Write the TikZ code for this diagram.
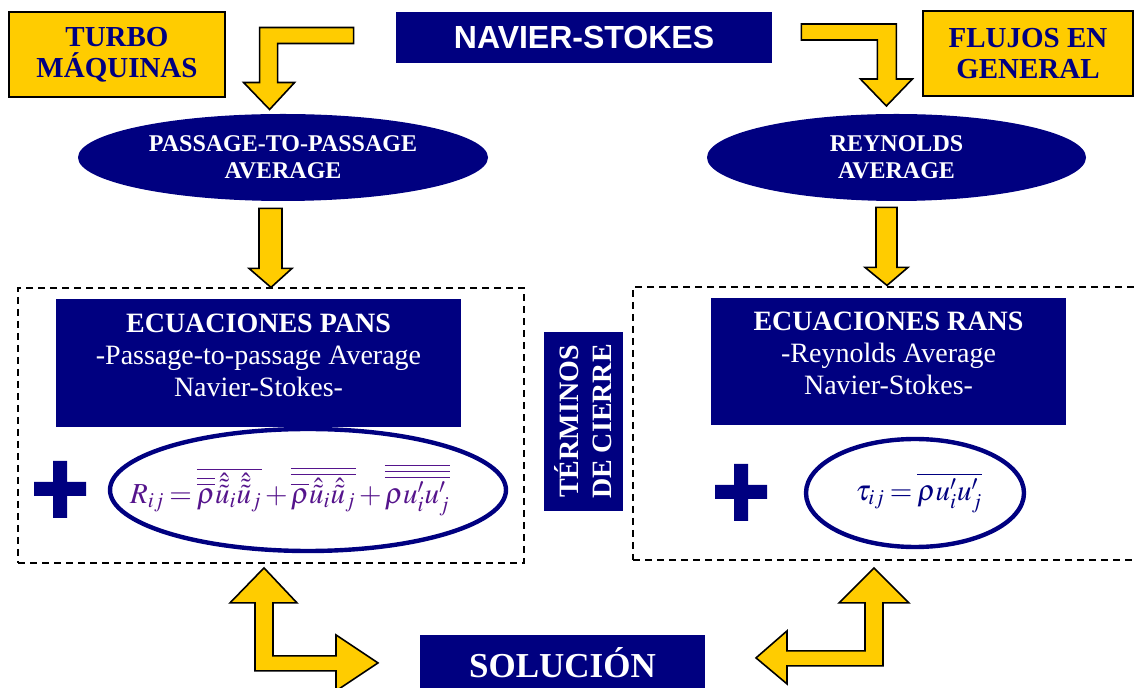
\documentclass[tikz,border=0pt]{standalone}
\usepackage{mathptmx}
\usepackage[no-math]{fontspec}
\setmainfont{Liberation Serif}
\newfontfamily\headsans{Liberation Sans}
\usepackage{amssymb, amsmath}
\usepackage{tikz}
\usetikzlibrary{shapes.geometric}

\definecolor{navyblue}{RGB}{0,0,128}
\definecolor{turboyellow}{RGB}{255,204,0}
\definecolor{formpurple}{RGB}{85,20,140}

\tikzset{
  yellowbox/.style={draw=black, line width=0.8pt, fill=turboyellow, text=navyblue, align=center, inner sep=0pt,
    font=\bfseries\fontsize{14.5}{15.5}\selectfont, minimum width=108pt, minimum height=42.5pt},
  navybox/.style={fill=navyblue, text=white, align=center, inner sep=0pt},
  eqbox/.style={navybox, font=\fontsize{14}{16}\selectfont, text depth=8pt},
  avgellipse/.style={ellipse, fill=navyblue, text=white, align=center, inner sep=0pt,
    font=\bfseries\fontsize{12}{13.5}\selectfont},
  closebox/.style={draw, dash pattern=on 3.5pt off 2.5pt, line width=0.9pt, inner sep=0pt},
  formring/.style={ellipse, draw=navyblue, line width=2.2pt, fill=white, inner sep=0pt},
  formula/.style={font=\fontsize{14.5}{18}\selectfont,
    execute at begin node={\thickmuskip=3mu\relax\medmuskip=2mu\relax}},
  yarrow/.style={draw=black, fill=turboyellow, line width=0.8pt, line join=miter},
}

\begin{document}
\begin{tikzpicture}[x=0.5pt,y=-0.5pt]
\useasboundingbox (0,0) rectangle (1134,688);

\node[yellowbox] (turbo) at (117,54.5) {TURBO\\M\'AQUINAS};
\node[yellowbox, minimum width=105pt] (flujos) at (1028,53.5) {FLUJOS EN\\GENERAL};
\node[navybox, minimum width=188pt, minimum height=25.5pt, font=\headsans\bfseries\fontsize{16}{18}\selectfont]
  (navier) at (584,37.5) {NAVIER-STOKES};

\node[avgellipse, minimum width=205pt, minimum height=43.5pt] (ppa) at (283,157.5) {PASSAGE-TO-PASSAGE\\AVERAGE};
\node[avgellipse, minimum width=189.5pt, minimum height=43.5pt] (rey) at (896.5,157.5) {REYNOLDS\\AVERAGE};

% closure blocks
\node[closebox, minimum width=253pt, minimum height=137.5pt] (lbox) at (271,425.5) {};
\node[closebox, minimum width=255pt, minimum height=136.5pt] (rbox) at (888,423.5) {};

\node[eqbox, minimum width=202.5pt, minimum height=64pt] (pans) at (258.5,363)
  {\textbf{ECUACIONES PANS}\\-Passage-to-passage Average\\Navier-Stokes-};
\node[eqbox, minimum width=177.5pt, minimum height=63.5pt] (rans) at (888.5,361.5)
  {\textbf{ECUACIONES RANS}\\-Reynolds Average\\Navier-Stokes-};

\node[navybox, rotate=90, minimum width=89.5pt, minimum height=39.5pt, font=\bfseries\fontsize{14}{16.5}\selectfont]
  (cierre) at (583.5,421.5) {T\'ERMINOS\\DE CIERRE};

\fill[navyblue] (34,482) rectangle (86,496) (53,461) rectangle (67,518);
\fill[navyblue] (715,485) rectangle (767,499) (734,464) rectangle (748,521);

\node[formring, minimum width=198pt, minimum height=61pt] (lring) at (308,490) {};
\node[formring, minimum width=109pt, minimum height=54pt] (rring) at (915,493) {};
\node[formula, text=formpurple] (lform) at ([xshift=-9pt]lring.center) {$R_{ij}=\overline{\overline{\overline{\rho}}\hat{\tilde{\tilde{u}}}_i\hat{\tilde{\tilde{u}}}_j}+\overline{\overline{\overline{\rho}\hat{\tilde{u}}_i\hat{\tilde{u}}_j}}+\overline{\overline{\overline{\rho u'_iu'_j}}}$};
\node[formula, text=navyblue] (rform) at ([xshift=2pt]rring.center) {$\tau_{ij}=\overline{\rho u'_iu'_j}$};

\node[navybox, minimum width=142.5pt, minimum height=27.5pt, font=\bfseries\fontsize{17.5}{20}\selectfont]
  (sol) at (562.5,662.5) {SOLUCI\'ON};

%arrows
\draw[yarrow] (navier.west) ++(-42,-10) -- ++(-94,0) -- ++(0,55) -- ++(-16,0) -- ++(26,27)
  -- ++(25,-27) -- ++(-17,0) -- ++(0,-39) -- ++(76,0) -- cycle;
\draw[yarrow] (navier.east) ++(29,-13.5) -- ++(95,0) -- ++(0,55) -- ++(16,0) -- ++(-26,27)
  -- ++(-26,-27) -- ++(17,0) -- ++(0,-39) -- ++(-76,0) -- cycle;
\draw[yarrow] (ppa.south) ++(-24,7) -- ++(0,60) -- ++(-10,0) -- ++(22,19) -- ++(21,-19)
  -- ++(-10,0) -- ++(0,-60) -- cycle;
\draw[yarrow] (rey.south) ++(-20.5,6) -- ++(0,60) -- ++(-11,0) -- ++(22,18) -- ++(21,-18)
  -- ++(-11,0) -- ++(0,-60) -- cycle;
\draw[yarrow] (lbox.south) ++(-7,4) -- ++(33,35) -- ++(-24,0) -- ++(0,53) -- ++(63,0) -- ++(0,-21)
  -- ++(42,28) -- ++(-42,28) -- ++(0,-20) -- ++(-81,0) -- ++(0,-68) -- ++(-25,0) -- cycle;
\draw[yarrow] (rbox.south) ++(-14,7) -- ++(35,35) -- ++(-26,0) -- ++(0,63) -- ++(-96,0) -- ++(0,18)
  -- ++(-31,-26) -- ++(31,-27) -- ++(0,20) -- ++(78,0) -- ++(0,-48) -- ++(-26,0) -- cycle;

\end{tikzpicture}
\end{document}
